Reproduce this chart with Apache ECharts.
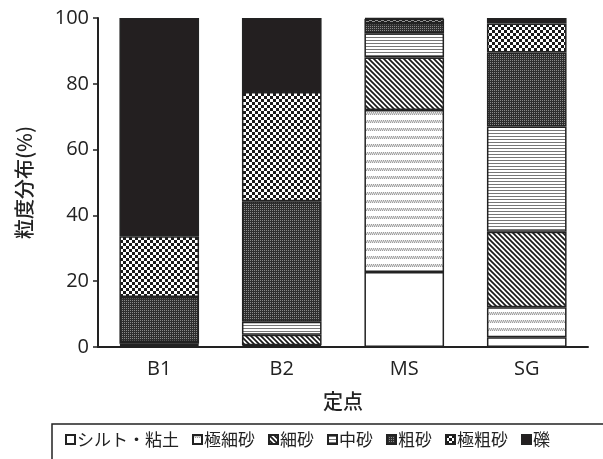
<!DOCTYPE html>
<html>
<head>
<meta charset="utf-8">
<script src="https://cdn.jsdelivr.net/npm/echarts@6/dist/echarts.min.js"></script>
<style>
  html, body { margin: 0; padding: 0; background: #fff; }
  #chart { width: 603px; height: 459px; }
</style>
</head>
<body>
<div id="chart"></div>
<script>
const stations = ['B1', 'B2', 'MS', 'SG']
const classNames = ['シルト・粘土', '極細砂', '細砂', '中砂', '粗砂', '極粗砂', '礫']
const yTicks = [0, 20, 40, 60, 80, 100]

// 粒度組成 (%)  station order: B1, B2, MS, SG
const silt = [0.4, 0.2, 22.8, 3.0]
const veryFine = [0.3, 0.3, 49.2, 9.1]
const fine = [0.3, 3.2, 16.0, 22.9]
const medium = [0.5, 4.0, 7.4, 32.0]
const coarse = [13.7, 36.6, 3.1, 22.5]
const veryCoarse = [18.5, 33.2, 1.2, 8.8]
const gravel = [66.3, 22.5, 0.3, 1.7]

const FONT = '"Noto Sans CJK JP", "Noto Sans", sans-serif'
const NUM_FONT = '"Open Sans", "Noto Sans", sans-serif'

function tile(w, h, draw) {
  const c = document.createElement('canvas')
  c.width = w
  c.height = h
  const ctx = c.getContext('2d')
  ctx.fillStyle = '#fff'
  ctx.fillRect(0, 0, w, h)
  draw(ctx)
  return { image: c, repeat: 'repeat' }
}

const fills = [
  '#ffffff',
  tile(8, 8, (ctx) => {
    ctx.strokeStyle = '#8a8a8a'
    ctx.lineWidth = 1
    for (let x = -2; x < 10; x += 2) {
      ctx.beginPath()
      ctx.moveTo(x, 3)
      ctx.lineTo(x + 2, 0)
      ctx.stroke()
    }
  }),
  tile(5, 5, (ctx) => {
    ctx.strokeStyle = '#1a1a1a'
    ctx.lineWidth = 1.7
    ctx.beginPath()
    ctx.moveTo(-1, -1)
    ctx.lineTo(6, 6)
    ctx.moveTo(-1, 4)
    ctx.lineTo(1, 6)
    ctx.moveTo(4, -1)
    ctx.lineTo(6, 1)
    ctx.stroke()
  }),
  tile(3, 3, (ctx) => {
    ctx.fillStyle = '#777'
    ctx.fillRect(0, 1, 3, 1)
  }),
  tile(2, 2, (ctx) => {
    ctx.fillStyle = '#2e2e2e'
    ctx.fillRect(0, 0, 2, 2)
    ctx.fillStyle = '#8a8a8a'
    ctx.fillRect(0, 0, 1, 1)
  }),
  tile(6, 6, (ctx) => {
    ctx.fillStyle = '#1a1a1a'
    ctx.fillRect(0, 0, 3, 3)
    ctx.fillRect(3, 3, 3, 3)
  }),
  '#231f20',
]

const values = [silt, veryFine, fine, medium, coarse, veryCoarse, gravel]

const chart = echarts.init(document.getElementById('chart'), null, { renderer: 'canvas' })

chart.setOption({
  backgroundColor: '#fff',
  animation: false,
  textStyle: { fontFamily: FONT },
  grid: {
    left: 98,
    right: 15,
    top: 18,
    bottom: 112,
  },
  legend: {
    data: classNames,
    left: 60,
    top: 426,
    itemWidth: 9,
    itemHeight: 9,
    itemGap: 13,
    icon: 'rect',
    textStyle: {
      fontSize: 17,
      color: '#222',
      fontFamily: FONT,
      padding: [0, 0, 0, -3],
    },
  },
  graphic: [
    {
      type: 'rect',
      shape: { x: 52, y: 424, width: 560, height: 50 },
      style: { fill: 'none', stroke: '#222', lineWidth: 1.5 },
      silent: true,
    },
  ],
  xAxis: {
    type: 'category',
    data: stations,
    name: '定点',
    nameLocation: 'middle',
    nameGap: 44,
    nameTextStyle: { fontSize: 20, color: '#222', fontFamily: FONT, fontWeight: 500 },
    axisLine: { lineStyle: { color: '#222', width: 2 } },
    axisTick: { show: false },
    axisLabel: { fontSize: 20, color: '#222', margin: 12, fontFamily: NUM_FONT },
  },
  yAxis: {
    type: 'value',
    min: 0,
    max: 100,
    interval: 20,
    name: '粒度分布(%)',
    nameLocation: 'middle',
    nameGap: 64,
    nameTextStyle: { fontSize: 20, color: '#222', fontFamily: FONT, fontWeight: 500 },
    axisLine: { show: true, lineStyle: { color: '#222', width: 2 } },
    axisTick: { show: true, length: 5, lineStyle: { color: '#222', width: 1.5 } },
    axisLabel: {
      fontSize: 20,
      color: '#222',
      margin: 9,
      fontFamily: NUM_FONT,
      formatter: (v) => (yTicks.includes(v) ? String(v) : ''),
    },
    splitLine: { show: false },
  },
  series: classNames.map((name, i) => ({
    name,
    type: 'bar',
    stack: 'total',
    barWidth: '65%',
    data: values[i],
    itemStyle: {
      color: fills[i],
      borderColor: '#222',
      borderWidth: 1.5,
    },
  })),
})
</script>
</body>
</html>
